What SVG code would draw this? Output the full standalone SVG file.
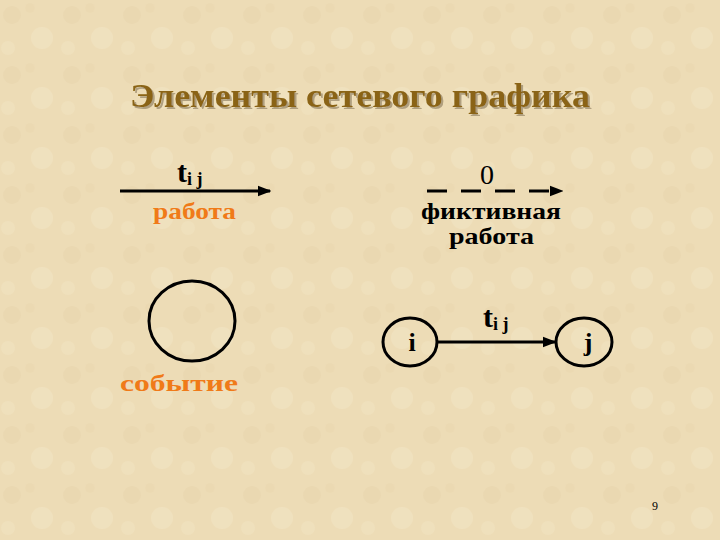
<svg xmlns="http://www.w3.org/2000/svg" width="720" height="540" viewBox="0 0 720 540">
<defs>
<marker id="arr" viewBox="0 0 10 10" refX="9" refY="5" markerWidth="4.5" markerHeight="4.5" orient="auto" markerUnits="strokeWidth"><path d="M0,1 L10,5 L0,9 z" fill="#000"/></marker>
<filter id="sh" x="-5%" y="-20%" width="110%" height="140%"><feDropShadow dx="2" dy="2" stdDeviation="0.6" flood-color="#a09070" flood-opacity="0.8"/></filter>
<pattern id="tex" width="60" height="60" patternUnits="userSpaceOnUse">
<rect width="60" height="60" fill="#eddcb6"/>
<circle cx="12" cy="15" r="9" fill="#e6d3aa" opacity="0.45"/>
<circle cx="42" cy="38" r="11" fill="#f2e5c5" opacity="0.5"/>
<circle cx="30" cy="8" r="5" fill="#e6d4ac" opacity="0.35"/>
<circle cx="8" cy="48" r="7" fill="#f2e4c4" opacity="0.45"/>
</pattern>
</defs>
<style>
.ser{font-family:"Liberation Serif","Times New Roman",serif;font-weight:bold}
.or{fill:#f07a18}
.bk{fill:#000}
.ln{stroke:#000;stroke-width:3;fill:none}
</style>
<rect width="720" height="540" fill="url(#tex)"/>
<text x="130" y="107" textLength="460" lengthAdjust="spacingAndGlyphs" class="ser" font-size="33" fill="#8a6414" filter="url(#sh)">Элементы сетевого графика</text>

<g id="connectors">
<line class="ln" x1="120" y1="191" x2="270" y2="191" marker-end="url(#arr)"/>
<line class="ln" x1="427" y1="191" x2="562" y2="191" stroke-dasharray="20,14" marker-end="url(#arr)"/>
<line class="ln" x1="438" y1="342" x2="555" y2="342" marker-end="url(#arr)"/>
</g>

<g id="work-label">
<text x="177" y="182" class="ser bk" font-size="30">t<tspan font-size="18" dy="3">i j</tspan></text>
<text x="153" y="219" textLength="83" lengthAdjust="spacingAndGlyphs" class="ser or" font-size="24">работа</text>
</g>

<g id="dummy-label">
<text x="487" y="184" text-anchor="middle" font-family="Liberation Serif, serif" font-size="28" fill="#000">0</text>
<text x="421" y="219" textLength="140" lengthAdjust="spacingAndGlyphs" class="ser bk" font-size="24">фиктивная</text>
<text x="449" y="244" textLength="85" lengthAdjust="spacingAndGlyphs" class="ser bk" font-size="24">работа</text>
</g>

<g id="event">
<ellipse cx="192" cy="321" rx="43" ry="40" class="ln"/>
<text x="120" y="391" textLength="118" lengthAdjust="spacingAndGlyphs" class="ser or" font-size="24">событие</text>
</g>

<g id="node-i">
<ellipse cx="410" cy="342" rx="27" ry="24" class="ln"/>
<text x="412" y="351" text-anchor="middle" class="ser bk" font-size="26">i</text>
</g>

<g id="node-j">
<ellipse cx="584" cy="342" rx="28" ry="24" class="ln"/>
<text x="588" y="351" text-anchor="middle" class="ser bk" font-size="26">j</text>
</g>

<g id="tij-label">
<text x="483" y="327" class="ser bk" font-size="30">t<tspan font-size="18" dy="3">i j</tspan></text>
</g>

<text x="655" y="510" text-anchor="middle" font-family="Liberation Serif, serif" font-size="12" fill="#000">9</text>
</svg>
